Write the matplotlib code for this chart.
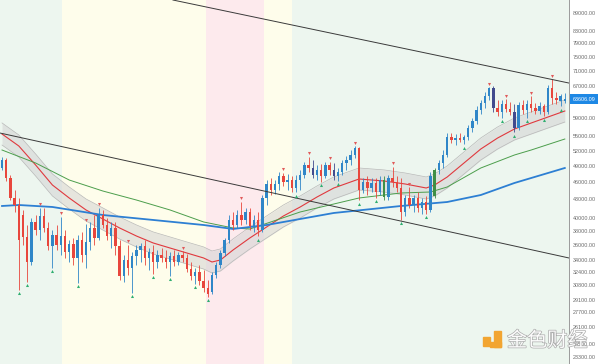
import matplotlib
matplotlib.use("Agg")
import matplotlib.pyplot as plt
import matplotlib.transforms as mtransforms
import matplotlib.patheffects as pe
from matplotlib.patches import Rectangle
from matplotlib.ticker import NullLocator
import numpy as np

# ---------------- data (prices) ----------------
opens = [48606, 50147, 46747, 43240, 42075, 40466, 37141, 33692, 39382, 38170,
         40311, 38470, 35861, 37430, 36001, 37285, 35031, 36142, 34222, 36707,
         34625, 36424, 38470, 36996, 40466, 38919, 37285, 38470, 35861, 31904,
         33953, 32913, 34491, 35302, 35861, 34222, 35031, 33692, 34625, 34222,
         33692, 34491, 33692, 34625, 34222, 32784, 31904, 32404, 31288, 30445,
         29974, 32028, 33300, 34896, 36707, 39690, 38919, 40466, 39690, 40947,
         38769, 39690, 38170, 43240, 45665, 44607, 45665, 47112, 46024, 46382,
         44959, 46382, 47295, 49175, 48606, 47295, 48226, 47112, 49175, 48226,
         47112, 47854, 49564, 50147, 51130, 52547, 44607, 46024, 44959, 45844,
         44263, 46382, 43409, 46747, 46024, 44959, 40947, 43240, 42075, 43240,
         41591, 42571, 41268, 43578, 48226, 49564, 51130, 54849, 54206, 54634,
         54206, 54849, 56807, 58380, 60935, 62625, 64356, 66396, 61415, 60465,
         62380, 61175, 60465, 56807, 62136, 60935, 62380, 61415, 60700, 61896,
         60465, 66396, 63857, 63114, 63114]
highs = [50736, 50540, 47295, 44607, 43240, 41268, 38919, 40000, 40466, 41591,
         41591, 39382, 38170, 38919, 40156, 38170, 36707, 36996, 37430, 37874,
         39073, 39382, 40466, 41591, 41268, 40000, 39382, 39382, 36707, 34625,
         36001, 35031, 36001, 36283, 36707, 35582, 36001, 35302, 35582, 35302,
         35031, 35302, 35031, 35167, 34760, 33692, 32913, 33300, 32655, 31409,
         32404, 33692, 35302, 36996, 40466, 40947, 41268, 42571, 41591, 41591,
         40466, 40947, 43747, 46382, 46747, 46382, 47854, 47667, 47481, 47112,
         47295, 48226, 49758, 50736, 50147, 49175, 49369, 49758, 49758, 49564,
         48606, 50147, 50933, 52137, 52958, 52752, 46747, 47112, 46747, 46747,
         47112, 47112, 47295, 48795, 47112, 46747, 43747, 45134, 43747, 44263,
         43240, 43578, 47854, 48606, 50147, 52137, 55711, 55711, 55494, 55711,
         55277, 57474, 59068, 61896, 63358, 65368, 66655, 66915, 63358, 63358,
         63607, 62869, 62380, 62869, 63358, 63358, 64356, 62625, 62869, 62380,
         67174, 68767, 65368, 64859, 65114]
lows = [48226, 46203, 42902, 40947, 30207, 36001, 31167, 33300, 37430, 36707,
        37874, 35302, 32913, 35302, 34625, 34222, 33692, 33300, 31045, 33692,
        32913, 35302, 36001, 36707, 38470, 36707, 35582, 34625, 31409, 31167,
        32028, 29858, 33300, 33692, 33300, 32655, 32153, 32913, 33692, 32913,
        31904, 33171, 33300, 33692, 32404, 31409, 30924, 30803, 29974, 29397,
        29741, 31657, 32913, 34491, 36283, 38170, 38470, 38919, 39073, 38170,
        37874, 37285, 37874, 42075, 43747, 43919, 44607, 45310, 44607, 44263,
        44263, 44607, 46747, 47854, 46747, 46382, 46024, 46747, 47295, 46382,
        46203, 47295, 48226, 49175, 50540, 42902, 44091, 43747, 44263, 43240,
        43747, 42902, 42902, 45134, 44263, 39690, 40311, 41591, 40947, 40947,
        40626, 40626, 40947, 43240, 47481, 48606, 50736, 53580, 53163, 53788,
        53371, 54206, 55928, 57700, 59995, 61415, 63358, 60465, 59529, 59068,
        60465, 59760, 55928, 56363, 59995, 59068, 60465, 59995, 59995, 59529,
        59995, 62380, 62380, 61896, 62625]
closes = [50147, 46747, 43240, 42075, 36707, 37141, 33692, 39382, 38170, 40311,
          38470, 35861, 37430, 36001, 37285, 35031, 36142, 34222, 36707, 34625,
          36424, 38470, 36996, 40466, 38919, 37285, 38470, 35861, 31904, 33953,
          32913, 34491, 35302, 35861, 34222, 35031, 33692, 34625, 34222, 33692,
          34491, 33692, 34625, 34222, 32784, 31904, 32404, 31288, 30445, 29741,
          32028, 33300, 34896, 36707, 39690, 38919, 40466, 39690, 40947, 38769,
          39690, 38170, 43240, 45665, 44607, 45665, 47112, 46024, 46382, 44959,
          46382, 47295, 49175, 48606, 47295, 48226, 47112, 49175, 48226, 47112,
          47854, 49564, 50147, 51130, 52547, 44607, 46024, 44959, 45844, 44263,
          46382, 43409, 46747, 46024, 44959, 40947, 43240, 42075, 43240, 41591,
          42571, 41268, 47112, 48226, 49564, 51130, 54849, 54206, 54634, 54206,
          54849, 56807, 58380, 60935, 62625, 64356, 66396, 61415, 60465, 62380,
          61175, 60465, 56807, 62136, 60935, 62380, 61415, 60700, 61896, 60465,
          66396, 63857, 63358, 64356, 63606]

navy_candles = [74, 79, 117, 122]
green_candles = [91, 103]
high_marks = [9, 14, 20, 23, 30, 43, 57, 67, 73, 78, 84, 93, 97, 116, 120, 126, 131]
low_marks = [4, 6, 12, 18, 31, 36, 40, 46, 49, 61, 70, 76, 80, 85, 89, 95, 101,
             110, 119, 122, 125, 129, 133]

ema_idx = [0, 4, 8, 12, 16, 20, 24, 28, 32, 36, 40, 44, 48, 50, 52, 55, 59, 63,
           67, 71, 75, 79, 85, 91, 96, 101, 103, 106, 110, 114, 118, 122, 126, 130, 134]
ema_val = [55494, 52958, 49175, 45486, 43240, 41268, 39845, 38470, 37285, 36283,
           35582, 34896, 34222, 33692, 33953, 35302, 36996, 38619, 40311, 41752,
           43409, 44959, 46565, 46203, 45665, 44959, 45486, 46930, 49564, 52342,
           54634, 56585, 57927, 59298, 60700]
band_upper = [57940, 55290, 51340, 47490, 45140, 43080, 41600, 40160, 38930, 37880,
              37150, 36430, 35730, 35170, 35450, 36860, 38620, 40320, 42080, 43590,
              45320, 46940, 48610, 48240, 47670, 46940, 47490, 49000, 51750, 54650,
              57040, 59070, 60480, 61910, 63370]
band_lower = [53160, 50730, 47110, 43580, 41420, 39530, 38170, 36850, 35720, 34760,
              34090, 33430, 32780, 32280, 32530, 33820, 35440, 37000, 38620, 40000,
              41590, 43070, 44610, 44260, 43750, 43070, 43580, 44960, 47480, 50140,
              52340, 54210, 55490, 56810, 58150]

ma_mid_idx = [0, 8, 16, 24, 32, 40, 48, 55, 59, 64, 71, 79, 85, 95, 102, 106, 114, 122, 126, 134]
ma_mid_val = [52137, 49564, 46382, 44435, 42902, 41268, 39382, 38470, 38320, 39382,
              40947, 42240, 43240, 44091, 44263, 45134, 48606, 51130, 52137, 54420]

ma_long_idx = [0, 4, 12, 24, 36, 48, 55, 63, 79, 95, 106, 114, 122, 134]
ma_long_val = [41914, 42075, 41752, 40466, 39690, 38919, 38320, 38919, 40787, 41914,
               42571, 43747, 45844, 48606]

trend_upper_idx = [40.7, 135.0]
trend_upper_val = [93570, 67690]
trend_lower_idx = [-0.5, 135.0]
trend_lower_val = [55711, 34222]

tick_values = [89000, 83000, 79000, 75000, 71000, 67000, 59000, 55000, 52000, 49000,
               46000, 43000, 40000, 38000, 36000, 34000, 32400, 30800, 29100, 27700,
               26100, 24500, 23300]
edge_ticks = [94000, 22180]
last_price = 63606.09

# ---------------- figure ----------------
fig = plt.figure(figsize=(6.0, 3.64), dpi=100)
fig.patch.set_facecolor('white')
ax = fig.add_axes([0, 0, 569 / 600, 1])
ax.set_yscale('log')
ax.set_xlim(-0.48, 135.0)
ax.set_ylim(22636, 93573)

zones = [(-0.48, 14.3, '#edf6ef'), (14.3, 48.6, '#fefdeb'), (48.6, 62.4, '#fdeaed'),
         (62.4, 69.0, '#fefdeb'), (69.0, 135.0, '#edf6ef')]
for a, b, c in zones:
    ax.axvspan(a, b, color=c, lw=0, zorder=0)

idx = np.arange(len(closes))
o = np.array(opens, float); c = np.array(closes, float)
h = np.array(highs, float); l = np.array(lows, float)
cols = ['#2f86c8' if c[i] >= o[i] else '#e8463c' for i in idx]
for i in navy_candles:
    cols[i] = '#414b8e'
for i in green_candles:
    cols[i] = '#3f8f46'

# moving averages and band
ax.fill_between(ema_idx, band_lower, band_upper, color='#d3d3d3', alpha=0.55, lw=0, zorder=1)
ax.plot(ema_idx, band_upper, color='#b8b8b8', lw=0.5, zorder=1.5)
ax.plot(ema_idx, band_lower, color='#b8b8b8', lw=0.5, zorder=1.5)
ax.plot(ema_idx, ema_val, color='#e0393e', lw=0.8, zorder=2)
ax.plot(ma_mid_idx, ma_mid_val, color='#4c9e4c', lw=0.7, zorder=2)
ax.plot(ma_long_idx, ma_long_val, color='#2d7fd3', lw=1.3, zorder=2)

# candles
ax.vlines(idx, l, h, colors=cols, lw=0.6, zorder=3)
ax.bar(idx, np.abs(c - o), bottom=np.minimum(o, c), width=0.55, color=cols, lw=0, zorder=4)

# trend lines
ax.plot(trend_upper_idx, trend_upper_val, color='#3a3a3a', lw=0.7, zorder=5)
ax.plot(trend_lower_idx, trend_lower_val, color='#3a3a3a', lw=0.7, zorder=5)

# swing markers
t_up = mtransforms.offset_copy(ax.transData, fig=fig, x=0, y=3.5, units='dots')
t_dn = mtransforms.offset_copy(ax.transData, fig=fig, x=0, y=-3.5, units='dots')
ax.plot(high_marks, h[high_marks], ls='none', marker='v', ms=2.2, color='#e05a5a',
        mec='none', transform=t_up, zorder=6)
ax.plot(low_marks, l[low_marks], ls='none', marker='^', ms=2.2, color='#2fae70',
        mec='none', transform=t_dn, zorder=6)

# axis styling
for s in ['top', 'left', 'bottom']:
    ax.spines[s].set_visible(False)
ax.spines['right'].set_color('#9a9a9a')
ax.spines['right'].set_linewidth(0.7)
ax.set_xticks([])
ax.yaxis.tick_right()
ax.yaxis.set_minor_locator(NullLocator())
ax.set_yticks(tick_values)
ax.set_yticklabels([f"{v:.2f}" for v in tick_values])
ax.tick_params(axis='y', length=0, pad=3, labelsize=3.9, labelcolor='#6b6b6b')
for lab in ax.get_yticklabels():
    lab.set_family('Liberation Sans')

blend = mtransforms.blended_transform_factory(ax.transAxes, ax.transData)
for v in edge_ticks:
    ax.text(1 + 3 / 569, v, f"{v:.2f}", transform=blend, va='center', ha='left',
            fontsize=3.9, color='#6b6b6b', family='Liberation Sans', clip_on=False)
ax.text(1 + 3.5 / 569, last_price, f"{last_price:.2f}", transform=blend, va='center',
        ha='left', fontsize=3.9, color='white', family='Liberation Sans', clip_on=False,
        bbox=dict(boxstyle='square,pad=0.45', fc='#1e88e5', ec='none'), zorder=10)

# watermark
def px_rect(x0, y0, x1, y1, color):
    fig.patches.append(Rectangle((x0 / 600, 1 - y1 / 364), (x1 - x0) / 600, (y1 - y0) / 364,
                                 transform=fig.transFigure, color=color, zorder=20))

px_rect(483, 337, 490, 346, '#f2a531')
px_rect(494, 331, 501, 347, '#f2a531')
px_rect(490, 342, 501, 347, '#f2a531')
fig.text(507 / 600, 1 - 341 / 364, '金色财经', fontsize=14.5, family=['Noto Sans CJK SC'],
         color='white', alpha=0.95, ha='left', va='center', zorder=21,
         path_effects=[pe.withStroke(linewidth=1.0, foreground='#a8a8a8')])

fig.savefig('out.png', dpi=100)
